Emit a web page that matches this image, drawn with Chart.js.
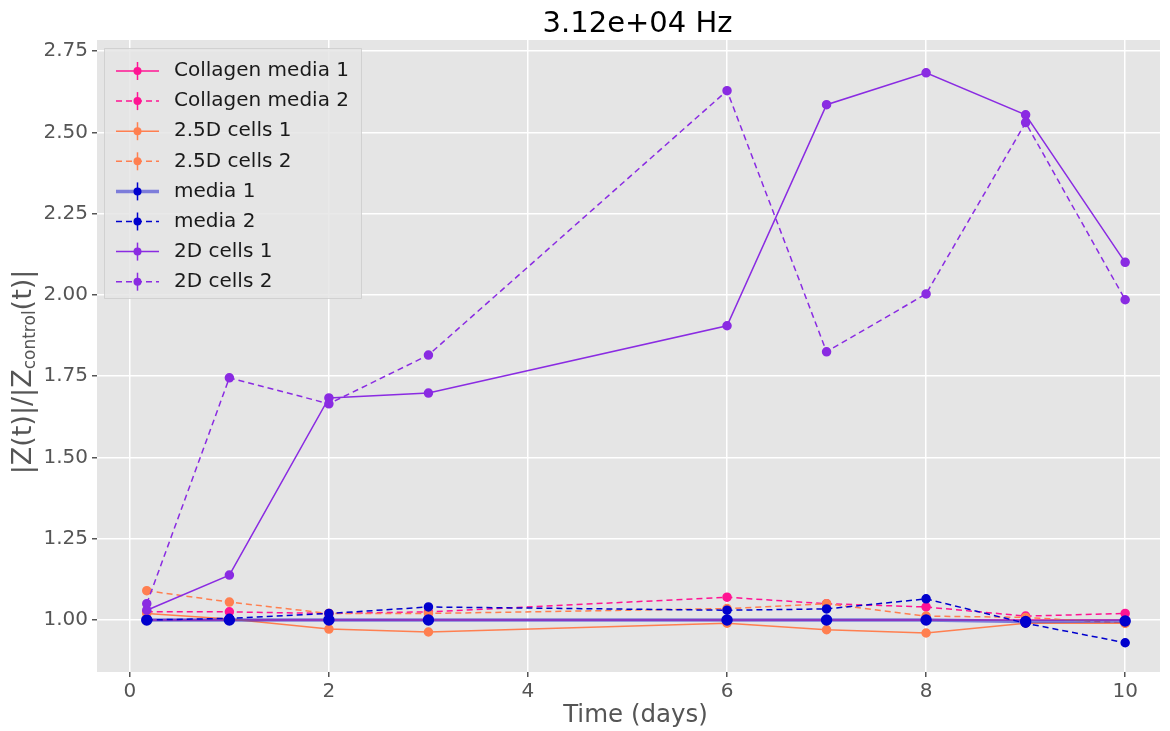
<!DOCTYPE html>
<html><head><meta charset="utf-8">
<script src="https://cdn.jsdelivr.net/npm/chart.js@4"></script>
<style>html,body{margin:0;padding:0;background:#fff;}#wrap{width:1170px;height:731px;}</style>
</head><body><div id="wrap"><canvas id="c" width="1170" height="731"></canvas></div>
<script>
const days = [0.17, 1, 2, 3, 6, 7, 8, 9, 10];
const collagenMedia1 = [1.00, 1.00, 1.00, 1.00, 1.00, 1.00, 1.00, 1.00, 1.00];
const collagenMedia2 = [1.025, 1.025, 1.02, 1.025, 1.07, 1.05, 1.04, 1.012, 1.02];
const cells25D1 = [1.02, 1.003, 0.972, 0.963, 0.99, 0.97, 0.96, 0.99, 0.99];
const cells25D2 = [1.09, 1.055, 1.02, 1.02, 1.035, 1.05, 1.012, 1.008, 0.99];
const media1 = [1.00, 1.00, 1.00, 1.00, 1.00, 1.00, 1.00, 0.995, 0.997];
const media2 = [1.00, 1.005, 1.02, 1.04, 1.03, 1.034, 1.065, 0.99, 0.93];
const cells2D1 = [1.03, 1.138, 1.683, 1.698, 1.905, 2.585, 2.683, 2.554, 2.10];
const cells2D2 = [1.05, 1.745, 1.665, 1.815, 2.628, 1.825, 2.003, 2.53, 1.985];
const xTicks = [0, 2, 4, 6, 8, 10];
const yTicks = [1.00, 1.25, 1.50, 1.75, 2.00, 2.25, 2.50, 2.75];
const seriesNames = ['Collagen media 1','Collagen media 2','2.5D cells 1','2.5D cells 2','media 1','media 2','2D cells 1','2D cells 2'];
const seriesValues = [collagenMedia1, collagenMedia2, cells25D1, cells25D2, media1, media2, cells2D1, cells2D2];
const seriesColors = ['#ff1493','#ff1493','#ff7f50','#ff7f50','#0000cd','#0000cd','#8a2be2','#8a2be2'];
const seriesDashed = [false,true,false,true,false,true,false,true];
const titleText = '3.12e+04 Hz';

const FONT = '"DejaVu Sans", sans-serif';
const datasets = seriesNames.map((n,i)=>({
  label:n,
  data: days.map((d,j)=>({x:d,y:seriesValues[i][j]})),
  borderColor: (i===4) ? 'rgba(40,40,210,0.55)' : seriesColors[i],
  backgroundColor: seriesColors[i],
  pointBackgroundColor: seriesColors[i],
  pointBorderColor: seriesColors[i],
  borderWidth: (i===4) ? 3.5 : 1.5,
  borderDash: seriesDashed[i] ? [6,4] : [],
  pointRadius: 4,
  pointHoverRadius: 4,
  tension: 0,
  order: 8 - i
}));

const bgPlugin = {
  id:'bg',
  beforeDraw(chart){
    const {ctx, chartArea:a} = chart;
    ctx.save();
    ctx.fillStyle = '#fff';
    ctx.fillRect(0,0,chart.width,chart.height);
    ctx.fillStyle = '#e5e5e5';
    ctx.fillRect(a.left, a.top, a.right-a.left, a.bottom-a.top);
    ctx.restore();
  },
  afterDraw(chart){
    const {ctx, chartArea:a} = chart;
    ctx.save();
    ctx.fillStyle = '#000';
    ctx.font = '29px ' + FONT;
    ctx.textAlign = 'center';
    ctx.textBaseline = 'middle';
    ctx.fillText(titleText, (a.left+a.right)/2 + 9, 24);
    ctx.fillStyle = '#555';
    ctx.font = '24.5px ' + FONT;
    ctx.fillText('Time (days)', (a.left+a.right)/2 + 7, 716);
    ctx.translate(24, 372);
    ctx.rotate(-Math.PI/2);
    const p1 = '|Z(t)|/|Z', sub = 'control', p2 = '(t)|';
    const big = '27px ' + FONT, small = '17px ' + FONT;
    ctx.font = big; const w1 = ctx.measureText(p1).width; const w3 = ctx.measureText(p2).width;
    ctx.font = small; const w2 = ctx.measureText(sub).width;
    let x = -(w1+w2+w3)/2;
    ctx.textAlign = 'left'; ctx.textBaseline = 'middle';
    ctx.font = big; ctx.fillText(p1, x, 0); x += w1;
    ctx.font = small; ctx.fillText(sub, x, 7); x += w2;
    ctx.font = big; ctx.fillText(p2, x, 0);
    ctx.restore();
    // legend
    ctx.save();
    const lx = 104, ly = 48, lw = 257, lh = 250;
    ctx.fillStyle = 'rgba(229,229,229,0.85)';
    ctx.strokeStyle = 'rgba(204,204,204,0.8)';
    ctx.lineWidth = 1;
    ctx.beginPath(); ctx.rect(lx+0.5, ly+0.5, lw, lh); ctx.fill(); ctx.stroke();
    ctx.font = '20px ' + FONT;
    ctx.textBaseline = 'middle'; ctx.textAlign = 'left';
    seriesNames.forEach((n,i)=>{
      const y = 71 + i*30.1;
      const col = (i===4) ? 'rgba(40,40,210,0.55)' : seriesColors[i];
      ctx.strokeStyle = col;
      ctx.lineWidth = (i===4) ? 3.5 : 1.5;
      ctx.setLineDash(seriesDashed[i] ? [6,4] : []);
      ctx.beginPath(); ctx.moveTo(116, y); ctx.lineTo(159, y); ctx.stroke();
      ctx.setLineDash([]);
      ctx.strokeStyle = seriesColors[i]; ctx.lineWidth = 1.5;
      ctx.beginPath(); ctx.moveTo(137.5, y-9); ctx.lineTo(137.5, y+9); ctx.stroke();
      ctx.fillStyle = seriesColors[i];
      ctx.beginPath(); ctx.arc(137.5, y, 4, 0, Math.PI*2); ctx.fill();
      ctx.fillStyle = '#1a1a1a';
      ctx.fillText(n, 174, y);
    });
    ctx.restore();
  }
};

new Chart(document.getElementById('c'), {
  type:'line',
  data:{datasets},
  options:{
    responsive:false,
    animation:false,
    devicePixelRatio:1,
    layout:{padding:{top:40,right:10,left:0,bottom:0}},
    plugins:{legend:{display:false}, title:{display:false}, tooltip:{enabled:false}},
    scales:{
      x:{
        type:'linear', min:-0.33, max:10.35,
        afterBuildTicks(s){ s.ticks = xTicks.map(v=>({value:v})); },
        afterFit(s){ s.height = 59; },
        grid:{color:'#fff', lineWidth:1.5, tickColor:'#555', tickLength:5},
        border:{display:false},
        ticks:{color:'#555', font:{family:FONT, size:20}, padding:3, callback:v=>String(v)}
      },
      y:{
        type:'linear', min:0.84, max:2.784,
        afterBuildTicks(s){ s.ticks = yTicks.map(v=>({value:v})); },
        afterFit(s){ s.width = 97; },
        grid:{color:'#fff', lineWidth:1.5, tickColor:'#555', tickLength:5},
        border:{display:false},
        ticks:{color:'#555', font:{family:FONT, size:20}, padding:4, callback:v=>Number(v).toFixed(2)}
      }
    }
  },
  plugins:[bgPlugin]
});
</script></body></html>
